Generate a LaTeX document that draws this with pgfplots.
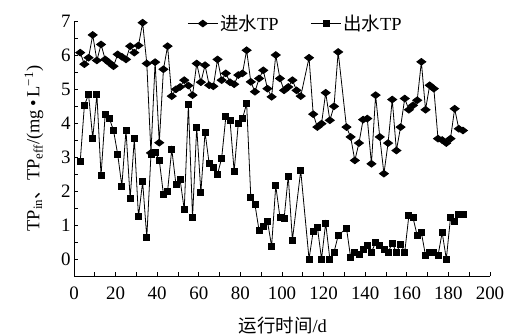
\documentclass[border=0pt]{standalone}
\usepackage{fontspec}
\setmainfont{Liberation Serif}
\newfontfamily\cjk{Noto Sans CJK SC}
\usepackage{pgfplots}
\usepackage{pgfplotstable}
\pgfplotsset{compat=1.18}
\pgfplotsset{every axis plot post/.append style={legend image code/.code={\draw[mark repeat=2,mark phase=2,##1] plot coordinates {(0bp,0bp) (15bp,0bp) (30bp,0bp)};}}}
\pgfplotstableread{
day val
3 6.07
5 5.73
7 5.92
9 6.59
11 5.84
13 6.31
15 5.87
17 5.77
19 5.67
21 6.02
23 5.95
25 5.87
27 6.26
29 6.07
31 6.28
33 6.95
35 5.75
37 3.12
39 5.79
41 3.42
43 5.58
45 6.26
47 4.79
49 4.99
51 5.06
53 5.26
55 5.10
57 4.82
59 5.75
61 5.20
63 5.70
65 5.11
67 5.08
69 5.87
71 5.26
73 5.46
75 5.20
77 5.14
79 5.41
81 5.46
83 6.14
85 5.21
87 4.92
89 5.31
91 5.55
93 5.01
95 4.77
97 6.00
99 5.31
101 4.96
103 5.06
105 5.26
107 4.96
109 4.79
113 5.92
115 4.26
117 3.88
119 3.98
121 4.89
123 4.08
125 4.49
127 6.09
131 3.88
133 3.59
135 2.90
137 3.41
139 4.10
141 4.13
143 2.80
145 4.82
147 3.59
149 2.51
151 3.41
153 4.69
155 3.19
157 3.88
159 4.72
161 4.39
163 4.52
165 4.67
167 5.80
169 4.39
171 5.11
173 5.01
175 3.54
177 3.50
179 3.41
181 3.54
183 4.42
185 3.83
187 3.78
}\influent
\pgfplotstableread{
day val
3 2.88
5 4.52
7 4.84
9 3.55
11 4.84
13 2.46
15 4.26
17 4.14
19 3.78
21 3.08
23 2.15
25 3.79
27 1.78
29 3.54
31 1.24
33 2.27
35 0.63
37 3.08
39 3.13
41 2.91
43 1.90
45 2.00
47 3.23
49 2.20
51 2.34
53 1.45
55 4.54
57 1.23
59 3.88
61 1.96
63 3.73
65 2.80
67 2.70
69 2.49
71 2.97
73 4.18
75 4.08
77 2.58
79 4.00
81 4.13
83 4.57
85 1.82
87 1.60
89 0.83
91 0.95
93 1.11
95 0.38
97 2.16
99 1.23
101 1.18
103 2.44
105 0.56
109 2.60
113 0.00
115 0.82
117 0.94
119 0.00
121 1.06
123 0.00
125 0.20
127 0.69
131 0.91
133 0.04
135 0.20
137 0.13
139 0.29
141 0.39
143 0.20
145 0.49
147 0.39
149 0.29
151 0.20
153 0.46
155 0.20
157 0.44
159 0.20
161 1.28
163 1.21
165 0.69
167 0.78
169 0.10
171 0.20
173 0.20
175 0.10
177 0.78
179 0.00
181 1.21
183 1.11
185 1.30
187 1.30
}\effluent
\begin{document}
\begin{tikzpicture}
\useasboundingbox (-74bp,-60bp) rectangle (432bp,276bp);
\begin{axis}[
  scale only axis, width=416bp, height=255bp,
  xmin=0, xmax=200, ymin=-0.5, ymax=7,
  axis x line=bottom, axis y line=left,
  axis line style={-, line width=0.8bp, black},
  xtick={0,20,40,60,80,100,120,140,160,180,200},
  minor xtick={10,30,50,70,90,110,130,150,170,190},
  ytick={0,1,2,3,4,5,6,7},
  minor ytick={0.5,1.5,2.5,3.5,4.5,5.5,6.5},
  tick align=inside, major tick length=4bp, minor tick length=4bp,
  every tick/.style={line width=0.8bp, black},
  minor tick style={line width=0.8bp, black},
  tick label style={font=\fontsize{19}{19}\selectfont},
  xticklabel style={yshift=-7bp},
  /pgf/number format/assume math mode=true,
  xlabel={{\cjk 运行时间}/d},
  ylabel={TP\textsubscript{in}{\cjk 、}TP\textsubscript{eff}/(mg\,\textbullet\,L\textsuperscript{−1})},
  every axis x label/.style={at={(axis description cs:0.502,-0.196)}, anchor=center, font=\fontsize{18.5}{20}\selectfont},
  every axis y label/.style={at={(axis description cs:-0.096,0.5)}, rotate=90, anchor=center, font=\fontsize{18.5}{20}\selectfont},
  legend columns=2,
  legend style={draw=none, fill=none, at={(rel axis cs:0.265,0.99)}, anchor=west,
    font=\fontsize{18.5}{20}\selectfont, /tikz/every even column/.append style={column sep=30bp}},
  clip=false,
]
\addplot[black, line width=0.8bp, mark=diamond*, mark size=4.5bp, mark options={rotate=90, solid, fill=black}]
  table[x=day,y=val] {\influent};
\addlegendentry{{\cjk 进水}TP}
\addplot[black, line width=0.8bp, mark=square*, mark size=3bp, mark options={solid, fill=black}]
  table[x=day,y=val] {\effluent};
\addlegendentry{{\cjk 出水}TP}
\end{axis}
\end{tikzpicture}
\end{document}
